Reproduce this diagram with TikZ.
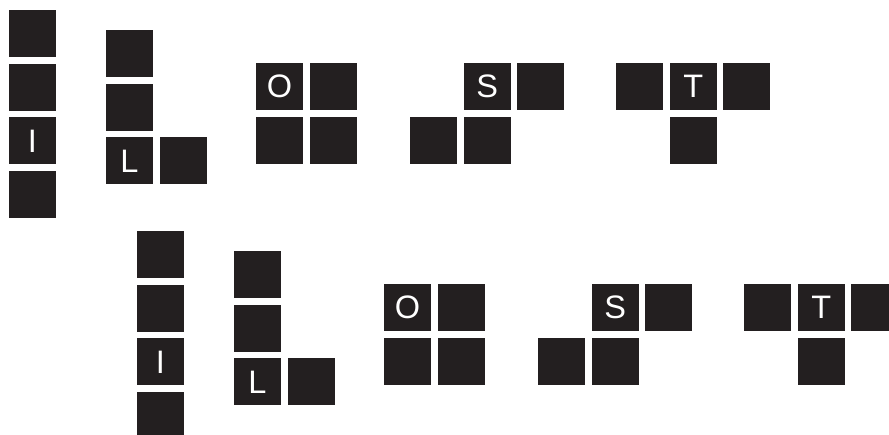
\documentclass[tikz,border=0pt]{standalone}
\usepackage{fontspec}
\setmainfont{Liberation Sans}
\usepackage{xcolor}
\usetikzlibrary{positioning}

\definecolor{tileblack}{HTML}{231F20}

\begin{document}
\begin{tikzpicture}[x=1pt, y=-1pt, node distance=6.7pt,
  every node/.style={fill=tileblack, text=white, minimum size=47pt, inner sep=0pt, outer sep=0pt, font=\fontsize{32.5}{38}\selectfont}]
  \clip (0,0) rectangle (889,435);

  \foreach \g/\dx/\dy in {a/0/0, b/128/221} {
    \begin{scope}[shift={(\dx,\dy)}]
      \node (\g i1) at (32.5,33.5) {};
      \node[below=of \g i1] (\g i2) {};
      \node[below=of \g i2] (\g i3) {I};
      \node[below=of \g i3] (\g i4) {};

      \node (\g l1) at (129.5,53.5) {};
      \node[below=of \g l1] (\g l2) {};
      \node[below=of \g l2] (\g l3) {L};
      \node[right=of \g l3] (\g l4) {};

      \node (\g o1) at (279.5,86.5) {O};
      \node[right=of \g o1] (\g o2) {};
      \node[below=of \g o1] (\g o3) {};
      \node[right=of \g o3] (\g o4) {};

      \node (\g s1) at (433.5,140.5) {};
      \node[right=of \g s1] (\g s2) {};
      \node[above=of \g s2] (\g s3) {S};
      \node[right=of \g s3] (\g s4) {};

      \node (\g t1) at (639.5,86.5) {};
      \node[right=of \g t1] (\g t2) {T};
      \node[right=of \g t2] (\g t3) {};
      \node[below=of \g t2] (\g t4) {};
    \end{scope}
  }
\end{tikzpicture}
\end{document}
